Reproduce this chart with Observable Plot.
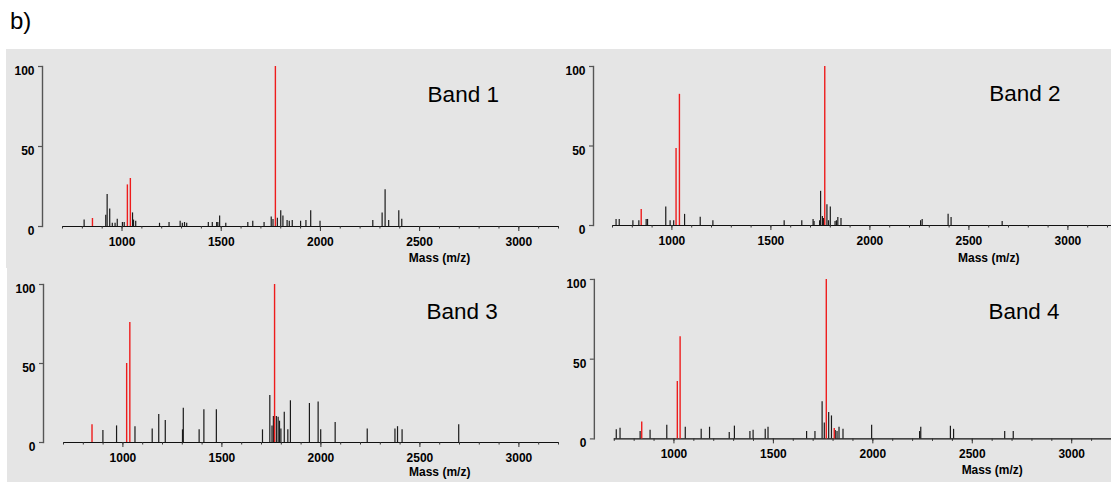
<!DOCTYPE html>
<html><head><meta charset="utf-8">
<script src="https://cdn.jsdelivr.net/npm/d3@7"></script>
<script src="https://cdn.jsdelivr.net/npm/@observablehq/plot@0.6"></script>
<style>
html,body{margin:0;padding:0;background:#fff;overflow:hidden}
#root{position:relative;width:1111px;height:482px;overflow:hidden;font-family:"Liberation Sans",Arial,sans-serif}
.bg{position:absolute;background:#e5e5e5}
.panel{position:absolute}
.panel svg{overflow:visible}
#tag{position:absolute;left:10px;top:7px;font-size:24px;color:#000}
</style></head><body>
<div id="root">
<div id="tag">b)</div>
<div class="bg" style="left:6px;top:49px;width:1105px;height:219px"></div>
<div class="bg" style="left:7px;top:268px;width:1104px;height:214px"></div>
</div>
<script>
// ---- data ----
const bandNames = ["Band 1", "Band 2", "Band 3", "Band 4"];
const xAxisLabel = "Mass (m/z)";
const yTicks = [0, 50, 100];
const xMajorTicks = [1000, 1500, 2000, 2500, 3000];
const xMinorTicks = d3.range(700, 3201, 100);

const band1Mass = [809, 918, 925, 938, 951, 965, 976, 1002, 1011, 1053, 1058, 1069, 1189, 1237, 1293, 1304, 1315, 1326, 1435, 1455, 1477, 1483, 1492, 1523, 1634, 1659, 1716, 1752, 1761, 1783, 1800, 1811, 1832, 1843, 1858, 1900, 1927, 1951, 1998, 2264, 2311, 2326, 2344, 2395, 2410];
const band1Int  = [4, 7, 20, 11, 2, 2, 4.6, 2.5, 2.5, 8.5, 4, 3.3, 2, 2.5, 3.3, 2, 2.5, 2, 2.5, 2.5, 2.5, 2.5, 6.5, 2, 2.5, 3.3, 2.5, 6, 4.4, 5.2, 9.8, 6.5, 3.8, 3.3, 3.8, 3.3, 3.8, 9.8, 3.3, 3.8, 8.5, 23, 3.8, 9.8, 4.6];
const band1RedMass = [851, 1027, 1042, 1773];
const band1RedInt  = [5, 26, 30, 100];

const band2Mass = [718, 734, 803, 833, 870, 877, 969, 991, 1009, 1064, 1143, 1207, 1567, 1656, 1713, 1718, 1746, 1751, 1760, 1765, 1783, 1791, 1800, 1824, 1831, 1838, 1854, 2256, 2264, 2395, 2410, 2668];
const band2Int  = [3.8, 3.8, 3, 3, 3.8, 3.8, 11.7, 3, 3, 7, 5.2, 3, 3, 3, 3.8, 2.5, 3, 21.5, 5.6, 4.4, 13, 3, 11.7, 2.5, 3, 5, 4.4, 3, 3.8, 7, 5, 2.5];
const band2RedMass = [845, 1021, 1038, 1772];
const band2RedInt  = [10, 48.5, 82.5, 100];

const band3Mass = [899, 968, 1061, 1148, 1181, 1214, 1301, 1305, 1385, 1409, 1472, 1705, 1742, 1753, 1760, 1775, 1784, 1791, 1798, 1815, 1833, 1846, 1942, 1986, 1999, 2072, 2234, 2374, 2387, 2410, 2696];
const band3Int  = [7.6, 10.5, 10, 8.6, 17.7, 14, 8, 21.7, 8, 20.7, 20.7, 8, 29.7, 10.5, 16.5, 16.5, 16, 13.5, 8.6, 19.2, 8, 26.4, 24.7, 25.7, 8, 12.7, 8.6, 8.6, 10, 8, 11.2];
const band3RedMass = [844, 1019, 1035, 1766];
const band3RedInt  = [11.2, 50, 76, 100];

const band4Mass = [710, 729, 830, 880, 964, 1057, 1137, 1179, 1278, 1304, 1382, 1398, 1459, 1473, 1667, 1709, 1745, 1756, 1778, 1792, 1811, 1820, 1830, 1850, 1994, 2235, 2241, 2390, 2406, 2663, 2706];
const band4Int  = [5.8, 6.7, 4.6, 5.4, 8.5, 7.3, 6, 7.3, 4, 8, 4.6, 5.4, 6, 7.3, 4.6, 4.6, 23.3, 10, 16.5, 14.4, 5.2, 4.6, 7.3, 6, 8.5, 4.6, 7.3, 8, 6, 4.6, 4.6];
const band4RedMass = [838, 1017, 1031, 1766, 1806];
const band4RedInt  = [10.6, 36, 64, 100, 6.5];

// ---- layout (positions/styles) ----
const FONT = '"Liberation Sans", Arial, sans-serif';
const panels = [
  {name: bandNames[0], mass: band1Mass, int: band1Int, redMass: band1RedMass, redInt: band1RedInt,
   left: 0, top: 49, w: 570, h: 219, ml: 42, inset: 20, mr: 12, mt: 17, mb: 42, xEnd: 3200, labDy: 35, bx: 2720, by: 82.5},
  {name: bandNames[1], mass: band2Mass, int: band2Int, redMass: band2RedMass, redInt: band2RedInt,
   left: 551, top: 49, w: 560, h: 219, ml: 42, inset: 19, mr: 4, mt: 17, mb: 43, xEnd: 3220, labDy: 36, bx: 2783, by: 83},
  {name: bandNames[2], mass: band3Mass, int: band3Int, redMass: band3RedMass, redInt: band3RedInt,
   left: 0, top: 268, w: 570, h: 214, ml: 43, inset: 20, mr: 12, mt: 16, mb: 40, xEnd: 3200, labDy: 33.5, bx: 2713, by: 83},
  {name: bandNames[3], mass: band4Mass, int: band4Int, redMass: band4RedMass, redInt: band4RedInt,
   left: 551, top: 268, w: 562, h: 214, ml: 43, inset: 20, mr: 0, mt: 11, mb: 43, xEnd: 3220, labDy: 35, bx: 2760, by: 80}
];

function drawPanel(p) {
  const black = p.mass.map((m, i) => ({mass: m, intensity: p.int[i]}));
  const red = p.redMass.map((m, i) => ({mass: m, intensity: p.redInt[i]}));
  return Plot.plot({
    width: p.w, height: p.h,
    marginLeft: p.ml, marginRight: p.mr, marginTop: p.mt, marginBottom: p.mb,
    x: {domain: [700, 3200], insetLeft: p.inset},
    y: {domain: [0, 100]},
    style: {background: "transparent", fontFamily: FONT, fontSize: "12px", color: "#000", overflow: "visible"},
    marks: [
      Plot.frame({anchor: "left", stroke: "#555", strokeWidth: 1.4}),
      Plot.axisY({ticks: yTicks, tickSize: 4, text: null, label: null, stroke: "#555", strokeWidth: 1.2}),
      Plot.text(yTicks, {y: d => d, frameAnchor: "left", dx: -8, textAnchor: "end", lineAnchor: "top",
                         text: d => String(d), fontWeight: "bold", fontSize: 12, fill: "#000"}),
      Plot.ruleY([0], {x1: 700, x2: p.xEnd, stroke: "#111", strokeWidth: 1.2}),
      Plot.axisX({ticks: xMinorTicks, tickSize: 2.5, text: null, label: null, stroke: "#333"}),
      Plot.axisX({ticks: xMajorTicks, tickSize: 5, text: null, label: null, stroke: "#333"}),
      Plot.text(xMajorTicks, {x: d => d, frameAnchor: "bottom", dy: 11, lineAnchor: "top",
                              text: d => String(d), fontWeight: "bold", fontSize: 12, fill: "#000"}),
      Plot.ruleX(black, {x: "mass", y1: 0, y2: "intensity", stroke: "#1a1a1a", strokeWidth: 1.2}),
      Plot.ruleX(red, {x: "mass", y1: 0, y2: "intensity", stroke: "#ee1c1c", strokeWidth: 1.4}),
      Plot.text([xAxisLabel], {x: 2600, frameAnchor: "bottom", dy: p.labDy, text: d => d,
                               fontWeight: "bold", fontSize: 12, fill: "#000"}),
      Plot.text([p.name], {x: p.bx, y: p.by, text: d => d, fontSize: 22.5, fill: "#000"})
    ]
  });
}

const root = document.getElementById("root");
for (const p of panels) {
  const div = document.createElement("div");
  div.className = "panel";
  div.style.left = p.left + "px";
  div.style.top = p.top + "px";
  div.appendChild(drawPanel(p));
  root.appendChild(div);
}
</script>
</body></html>
